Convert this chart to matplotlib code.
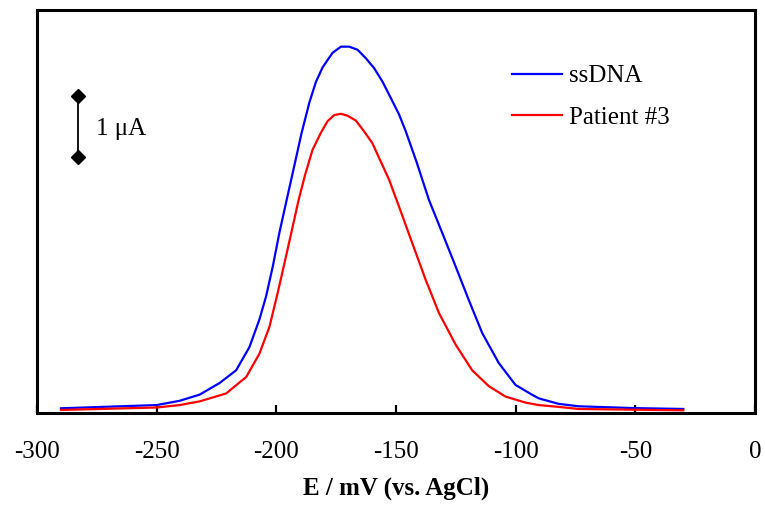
import numpy as np
import matplotlib
matplotlib.use('Agg')
import matplotlib.pyplot as plt

plt.rcParams['font.family'] = ['Liberation Serif', 'DejaVu Serif']

# potentials (mV) and currents (uA)
e_ssdna = [-290, -250, -240.4, -232.1, -223.75, -216.8, -211.25, -207.1, -204.3, -201.5,
           -198.75, -195.7, -192.5, -189.5, -186.25, -183.5, -180.7, -176.5, -173.0,
           -169.6, -166.1, -162.6, -159.2, -155.7, -152.2, -148.75, -146.0, -141.5, -136.25,
           -130.7, -125.1, -119.6, -114.0, -107.1, -100.1, -93.2, -90.4, -82.1, -73.75,
           -50.4, -30]
i_ssdna = [0.077, 0.13, 0.20, 0.30, 0.49, 0.70, 1.08, 1.53, 1.91, 2.40,
           2.95, 3.49, 4.05, 4.58, 5.08, 5.42, 5.66, 5.90, 6.0,
           6.0, 5.95, 5.81, 5.65, 5.43, 5.16, 4.89, 4.62, 4.12, 3.49,
           2.95, 2.40, 1.85, 1.31, 0.82, 0.46, 0.30, 0.24, 0.15, 0.11,
           0.08, 0.066]

e_patient = [-290, -250, -240.4, -232.1, -221.0, -212.6, -207.1, -202.9, -199.5, -196.0,
             -193.2, -190.7, -188.0, -184.9, -181.4, -178.6, -175.8, -173.0, -170.3, -166.8,
             -163.3, -159.9, -152.9, -148.75, -143.2, -137.6, -132.1, -125.1, -118.2, -111.25,
             -104.3, -95.9, -90.4, -82.1, -73.75, -50.4, -30]
i_patient = [0.05, 0.09, 0.13, 0.19, 0.32, 0.59, 0.97, 1.41, 1.96, 2.56,
             3.05, 3.49, 3.90, 4.31, 4.59, 4.78, 4.88, 4.90, 4.87, 4.79,
             4.61, 4.42, 3.82, 3.38, 2.78, 2.18, 1.64, 1.12, 0.70, 0.44,
             0.27, 0.17, 0.13, 0.10, 0.066, 0.054, 0.044]

xticks = [-300, -250, -200, -150, -100, -50, 0]

fig = plt.figure(figsize=(7.65, 5.14), dpi=100)
ax = fig.add_axes([0.0484, 0.1965, 0.9386, 0.784])

ax.plot(e_ssdna, i_ssdna, color='#0000ff', lw=1.6, label='ssDNA')
ax.plot(e_patient, i_patient, color='#ff0000', lw=1.6, label='Patient #3')

ax.set_xlim(-300, 0)
ax.set_ylim(0, 6.6)
ax.set_xticks(xticks)
ax.set_xticklabels([str(t) for t in xticks])
ax.set_yticks([])
ax.tick_params(axis='x', direction='in', length=6, width=1.6, labelsize=18, pad=20)
for s in ax.spines.values():
    s.set_linewidth(2.2)

ax.set_xlabel('E / mV (vs. AgCl)', fontsize=18, fontweight='bold', labelpad=10)

# 1 uA scale bar
ax.plot([-283, -283], [4.2, 5.2], color='black', lw=1.3, marker='D', markersize=7)
ax.text(-275.5, 4.65, '1 μA', fontsize=18, va='center', ha='left')

ax.legend(loc='upper left', bbox_to_anchor=(0.63, 0.92), frameon=False, fontsize=18,
          handlelength=2.0, handletextpad=0.3, labelspacing=0.75)

fig.savefig('out.png', dpi=100)
